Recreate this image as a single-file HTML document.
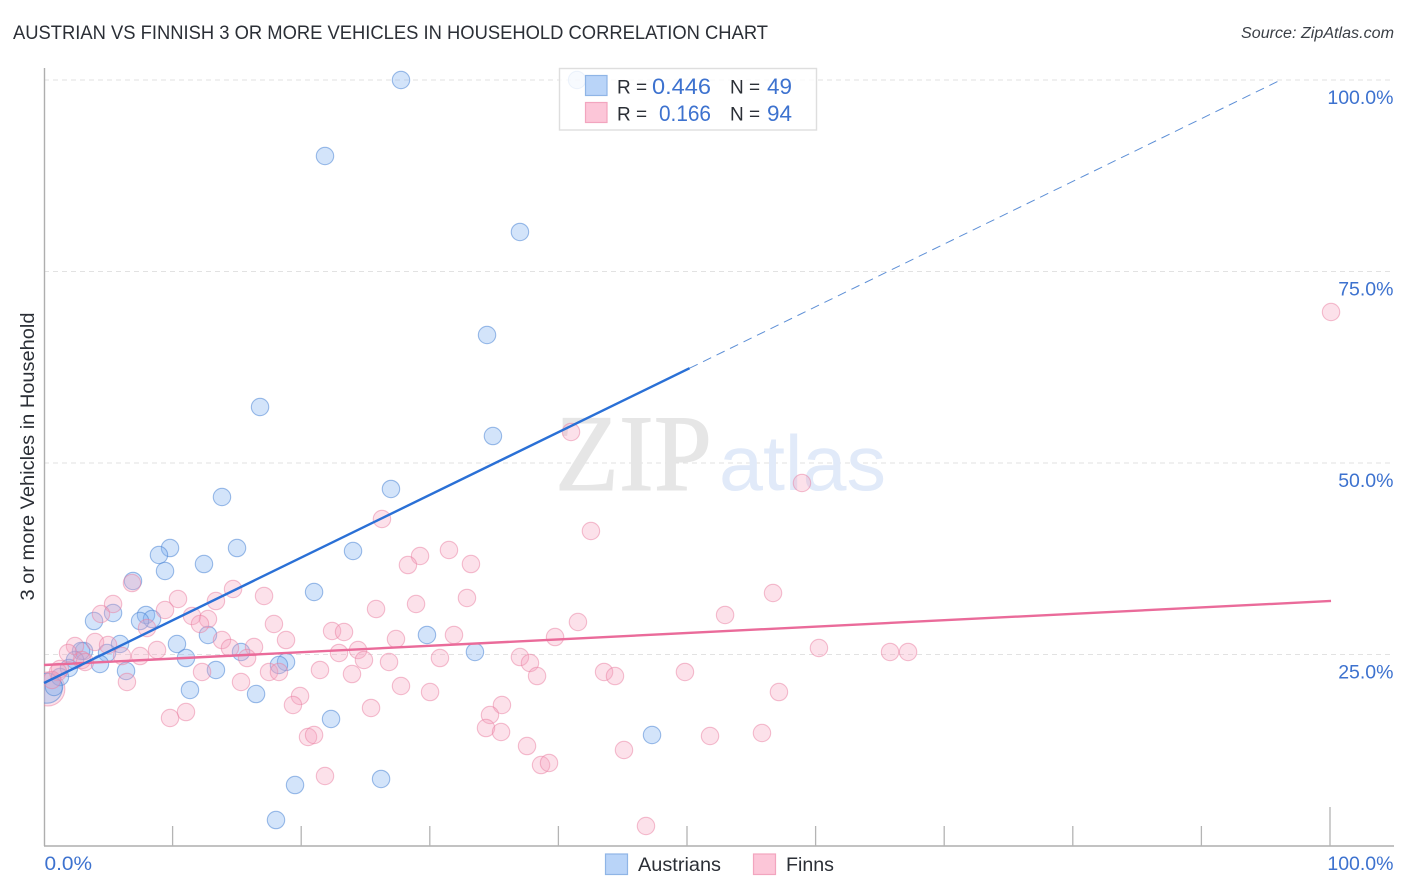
<!DOCTYPE html>
<html lang="en">
<head>
<meta charset="utf-8">
<title>Austrian vs Finnish 3 or more Vehicles in Household Correlation Chart</title>
<style>
html,body{margin:0;padding:0;background:#fff;}
svg{display:block;font-family:"Liberation Sans",sans-serif;}
</style>
</head>
<body>
<svg id="chart" xmlns="http://www.w3.org/2000/svg" width="1406" height="892" viewBox="0 0 1406 892">
  <defs><clipPath id="plot-clip"><rect x="44" y="50" width="1362" height="796"></rect></clipPath></defs>
  <rect x="0" y="0" width="1406" height="892" fill="#ffffff"></rect>
  <text x="13" y="39" font-size="19" fill="#2b2f36" textLength="755" lengthAdjust="spacingAndGlyphs">AUSTRIAN VS FINNISH 3 OR MORE VEHICLES IN HOUSEHOLD CORRELATION CHART</text>
  <text x="1241" y="38" font-size="15.5" font-style="italic" fill="#3a3f46" textLength="153" lengthAdjust="spacingAndGlyphs">Source: ZipAtlas.com</text>
  <text transform="translate(34,456.5) rotate(-90)" font-size="19" fill="#2b2f36" text-anchor="middle" textLength="288" lengthAdjust="spacingAndGlyphs">3 or more Vehicles in Household</text>

  <g id="grid"></g>

  <g>
    <text x="555" y="490" font-family="'Liberation Serif',serif" font-size="109" fill="#e6e6e6" stroke="#e6e6e6" stroke-width="1" textLength="157" lengthAdjust="spacingAndGlyphs">ZIP</text>
    <text x="719" y="490" font-size="78" fill="#e1eaf9" textLength="167" lengthAdjust="spacingAndGlyphs">atlas</text>
  </g>

  <g id="axes">
    <line x1="44.5" y1="68" x2="44.5" y2="846" stroke="#aeaeae" stroke-width="1.4"></line>
    <line x1="44" y1="846" x2="1394" y2="846" stroke="#aeaeae" stroke-width="1.4"></line>
  </g>

  <g id="points" clip-path="url(#plot-clip)"></g>
  <g id="trends"></g>
  <g id="ticklabels"></g>

  <g>
    <rect x="559.5" y="68.5" width="257" height="61.5" fill="#ffffff" fill-opacity="0.82" stroke="#dedede" stroke-width="1.4"></rect>
    <rect x="585.5" y="75.5" width="21.5" height="20" fill="#b9d4f8" stroke="#8fb5e6" stroke-width="1.2"></rect>
    <rect x="585.5" y="102.5" width="21.5" height="20" fill="#fcc6d8" stroke="#f2a5bf" stroke-width="1.2"></rect>
    <text x="617" y="93.5" font-size="19" fill="#2b2f36">R =</text>
    <text x="652" y="94" font-size="22" fill="#3d72cf" textLength="59" lengthAdjust="spacingAndGlyphs">0.446</text>
    <text x="730" y="93.5" font-size="19" fill="#2b2f36">N =</text>
    <text x="767" y="94" font-size="22" fill="#3d72cf" textLength="25" lengthAdjust="spacingAndGlyphs">49</text>
    <text x="617" y="120.5" font-size="19" fill="#2b2f36">R =</text>
    <text x="659" y="121" font-size="22" fill="#3d72cf" textLength="52" lengthAdjust="spacingAndGlyphs">0.166</text>
    <text x="730" y="120.5" font-size="19" fill="#2b2f36">N =</text>
    <text x="767" y="121" font-size="22" fill="#3d72cf" textLength="25" lengthAdjust="spacingAndGlyphs">94</text>
  </g>

  <g>
    <rect x="605.5" y="854" width="22" height="20.5" fill="#b9d4f8" stroke="#8fb5e6" stroke-width="1.2"></rect>
    <text x="638" y="871" font-size="19.5" fill="#2b2f36" textLength="83" lengthAdjust="spacingAndGlyphs">Austrians</text>
    <rect x="753.5" y="854" width="22" height="20.5" fill="#fcc6d8" stroke="#f2a5bf" stroke-width="1.2"></rect>
    <text x="786" y="871" font-size="19.5" fill="#2b2f36" textLength="48" lengthAdjust="spacingAndGlyphs">Finns</text>
  </g>
</svg>

<script>
const austrianX = [27.76,41.45,21.85,37.01,34.45,16.80,34.91,26.98,13.84,15.01,9.80,8.94,24.03,12.44,9.41,6.92,21.00,3.89,5.37,7.93,8.40,7.47,10.34,12.75,5.91,3.11,2.88,4.90,15.32,11.04,4.35,2.41,6.38,13.37,18.82,18.27,29.78,33.51,1.94,1.24,0.78,11.35,16.49,22.32,47.28,19.52,26.21,18.04];
const austrianY = [100,100,90.08,80.16,66.71,57.31,53.52,46.61,45.56,38.90,38.90,37.99,38.51,36.81,35.90,34.60,33.16,29.37,30.42,30.16,29.63,29.37,26.37,27.55,26.37,25.46,25.46,25.20,25.33,24.54,23.76,24.28,22.85,22.98,24.02,23.63,27.55,25.33,23.24,22.06,20.76,20.37,19.84,16.58,14.49,7.96,8.75,3.39];
const finnX = [100.08,40.98,58.94,26.28,42.53,31.49,29.24,28.30,33.20,6.84,14.70,17.11,32.89,13.37,10.42,28.93,25.82,56.69,52.96,5.37,4.43,9.41,11.51,12.75,41.52,8.01,17.88,12.13,22.40,23.33,31.88,18.82,27.37,39.74,2.41,3.97,4.98,2.95,1.87,13.84,14.46,16.33,8.79,7.47,6.07,22.94,24.42,24.88,26.83,30.79,37.01,37.79,15.79,21.46,17.50,18.27,23.95,43.55,44.40,49.84,38.34,60.26,65.79,67.19,6.45,15.32,12.29,19.91,19.36,27.76,30.02,57.15,25.43,11.04,9.80,35.61,34.68,34.37,35.54,20.53,21.00,37.56,45.10,51.79,55.83,21.85,38.65,39.27,46.81,3.19,1.24,1.09,0.62];
const finnY = [69.71,54.05,47.39,42.69,41.12,38.64,37.86,36.68,36.81,34.33,33.55,32.64,32.38,31.98,32.25,31.59,30.94,33.03,30.16,31.59,30.29,30.81,30.03,29.63,29.24,28.46,28.98,28.98,28.07,27.94,27.55,26.89,27.02,27.28,26.11,26.63,26.24,24.28,25.20,26.89,25.85,25.98,25.59,24.80,24.80,25.20,25.59,24.28,24.02,24.54,24.67,23.89,24.54,22.98,22.72,22.72,22.45,22.72,22.19,22.72,22.19,25.85,25.33,25.33,21.41,21.41,22.72,19.58,18.41,20.89,20.10,20.10,18.02,17.49,16.71,18.41,17.10,15.40,14.88,14.23,14.49,13.05,12.53,14.36,14.75,9.14,10.57,10.84,2.61,24.02,23.11,22.72,21.67];
const largeAustrianX = [0.25];
const largeAustrianY = [20.6];
const largeFinnX = [0.3];
const largeFinnY = [20.5];
const austrianTrend = { intercept: 21.28, slope: 0.8186, solidEnd: 50.2, dashEnd: 96.1 };
const finnTrend = { intercept: 23.63, slope: 0.0835, end: 100.08 };
const yTickValues = [100, 75, 50, 25];
const yTickLabels = ['100.0%', '75.0%', '50.0%', '25.0%'];
const xTickValues = [10, 20, 30, 40, 50, 60, 70, 80, 90, 100];
const xEndLabels = ['0.0%', '100.0%'];

const NS = 'http://www.w3.org/2000/svg';
const sx = v => 44 + v * 12.86;
const sy = v => 846 - v * 7.66;

function make(parent, tag, attrs) {
  const el = document.createElementNS(NS, tag);
  for (const k in attrs) el.setAttribute(k, attrs[k]);
  parent.appendChild(el);
  return el;
}

const grid = document.getElementById('grid');
yTickValues.forEach(v => {
  const g = make(grid, 'line', { x1: 44, x2: 1394, y1: sy(v), y2: sy(v), stroke: '#e2e2e2', 'stroke-width': 1, 'stroke-dasharray': '5 4' });
  
  
});

const axes = document.getElementById('axes');
xTickValues.forEach(v => {
  const t = make(axes, 'line', { x1: sx(v), x2: sx(v), y1: v === 100 ? 807 : 826, y2: 846, stroke: '#b4b4b4', 'stroke-width': 1.3 });
  
  
});

const points = document.getElementById('points');
const blueStyle = { fill: '#86b4f0', 'fill-opacity': 0.36, stroke: '#4f86d6', 'stroke-opacity': 0.55, 'stroke-width': 1.1 };
const pinkStyle = { fill: '#f7a3bf', 'fill-opacity': 0.32, stroke: '#ea7fa2', 'stroke-opacity': 0.5, 'stroke-width': 1.1 };

largeFinnX.forEach((x, i) => {
  const c = make(points, 'circle', Object.assign({ cx: sx(x), cy: sy(largeFinnY[i]), r: 17 }, pinkStyle));
  
  
});
largeAustrianX.forEach((x, i) => {
  const c = make(points, 'circle', Object.assign({ cx: sx(x), cy: sy(largeAustrianY[i]), r: 15 }, blueStyle));
  
  
});
austrianX.forEach((x, i) => {
  const c = make(points, 'circle', Object.assign({ cx: sx(x), cy: sy(austrianY[i]), r: 8.7 }, blueStyle));
  
  
});
finnX.forEach((x, i) => {
  const c = make(points, 'circle', Object.assign({ cx: sx(x), cy: sy(finnY[i]), r: 8.7 }, pinkStyle));
  
  
});

const trends = document.getElementById('trends');
const aAt = x => austrianTrend.intercept + austrianTrend.slope * x;
const fAt = x => finnTrend.intercept + finnTrend.slope * x;
const fLine = make(trends, 'line', { x1: sx(0), y1: sy(fAt(0)), x2: sx(finnTrend.end), y2: sy(fAt(finnTrend.end)), stroke: '#ea6b9a', 'stroke-width': 2.4 });


const aLine = make(trends, 'line', { x1: sx(0), y1: sy(aAt(0)), x2: sx(austrianTrend.solidEnd), y2: sy(aAt(austrianTrend.solidEnd)), stroke: '#2a70d6', 'stroke-width': 2.4 });


const aDash = make(trends, 'line', { x1: sx(austrianTrend.solidEnd), y1: sy(aAt(austrianTrend.solidEnd)), x2: sx(austrianTrend.dashEnd), y2: sy(aAt(austrianTrend.dashEnd)), stroke: '#5d8fd6', 'stroke-width': 1, 'stroke-dasharray': '9 6' });



const labels = document.getElementById('ticklabels');
yTickValues.forEach((v, i) => {
  const t = make(labels, 'text', { x: 1393.5, y: sy(v) + 24, 'font-size': 19.5, fill: '#3d72cf', 'text-anchor': 'end' });
  t.textContent = yTickLabels[i];
  
  
});
const x0 = make(labels, 'text', { x: 44.5, y: 870, 'font-size': 19.5, fill: '#3d72cf', textLength: 47.5, lengthAdjust: 'spacingAndGlyphs' });
x0.textContent = xEndLabels[0];


const x1 = make(labels, 'text', { x: 1393.5, y: 870, 'font-size': 19.5, fill: '#3d72cf', 'text-anchor': 'end' });
x1.textContent = xEndLabels[1];


</script>
</body>
</html>
